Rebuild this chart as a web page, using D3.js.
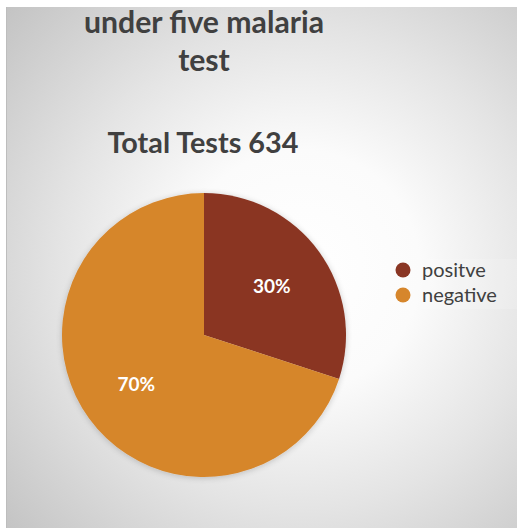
<!DOCTYPE html>
<html><head><meta charset="utf-8">
<script src="https://cdn.jsdelivr.net/npm/d3@7/dist/d3.min.js"></script>
<style>html,body{margin:0;padding:0;background:#fff;}svg{display:block;}</style>
</head><body>
<svg id="c" width="517" height="529"></svg>
<script>
const categories = ["positve", "negative"];
const values = [30, 70];
const labels = ["30%", "70%"];
const colors = ["#8A3624", "#D6862C"];
const titleLines = ["under five malaria", "test"];
const subtitle = "Total Tests 634";

const W = 517, H = 529;
const svg = d3.select("#c");
const defs = svg.append("defs");
const rg = defs.append("radialGradient").attr("id","bg")
  .attr("gradientUnits","userSpaceOnUse").attr("cx",300).attr("cy",270).attr("r",400);
rg.append("stop").attr("offset","0").attr("stop-color","#ffffff");
rg.append("stop").attr("offset","0.3").attr("stop-color","#fbfbfb");
rg.append("stop").attr("offset","0.6").attr("stop-color","#e4e4e4");
rg.append("stop").attr("offset","1").attr("stop-color","#c2c2c2");
const sh = defs.append("filter").attr("id","sh").attr("x","-20%").attr("y","-20%").attr("width","140%").attr("height","140%");
sh.append("feGaussianBlur").attr("in","SourceAlpha").attr("stdDeviation",3);
sh.append("feOffset").attr("dx",0).attr("dy",1).attr("result","b");
sh.append("feComponentTransfer").append("feFuncA").attr("type","linear").attr("slope",0.2);
const m = sh.append("feMerge"); m.append("feMergeNode"); m.append("feMergeNode").attr("in","SourceGraphic");

svg.append("rect").attr("x",6).attr("y",7).attr("width",W-6).attr("height",H-8).attr("fill","url(#bg)");
svg.append("line").attr("x1",6.5).attr("x2",6.5).attr("y1",7).attr("y2",H-1).attr("stroke","#bdbdbd").attr("stroke-width",1);

const font = "Lato, 'Open Sans', sans-serif";
function fitText(sel, target){
  const w = sel.node().getComputedTextLength();
  const fs = parseFloat(sel.attr("font-size"));
  sel.attr("font-size", fs*target/w);
}
const cx = 204, cy = 335, r = 142;
const t1 = svg.append("text").attr("x",cx).attr("y",33).attr("text-anchor","middle")
  .attr("font-family",font).attr("font-weight","bold").attr("font-size",26).attr("fill","#404040").text(titleLines[0]);
fitText(t1, 240);
const fs1 = t1.attr("font-size");
svg.append("text").attr("x",cx).attr("y",71).attr("text-anchor","middle")
  .attr("font-family",font).attr("font-weight","bold").attr("font-size",fs1).attr("fill","#404040").text(titleLines[1]);
const t3 = svg.append("text").attr("x",203).attr("y",153).attr("text-anchor","middle")
  .attr("font-family",font).attr("font-weight","bold").attr("font-size",26).attr("fill","#404040").text(subtitle);
fitText(t3, 191);

const pie = d3.pie().sort(null).value(d=>d);
const arc = d3.arc().innerRadius(0).outerRadius(r);
const arcs = pie(values);
const g = svg.append("g").attr("transform",`translate(${cx},${cy})`).attr("filter","url(#sh)");
g.selectAll("path").data(arcs).join("path").attr("d",arc).attr("fill",(d,i)=>colors[i]);
const lab = d3.arc().innerRadius(r*0.59).outerRadius(r*0.59);
const lg = svg.append("g").attr("transform",`translate(${cx},${cy})`);
lg.selectAll("text").data(arcs).join("text")
  .attr("transform",(d,i)=>{const c=lab.centroid(d);return `translate(${c[0]},${c[1]})`;})
  .attr("text-anchor","middle").attr("dy","0.36em")
  .attr("font-family",font).attr("font-weight","bold").attr("font-size",19).attr("fill","#ffffff")
  .text((d,i)=>labels[i]);

svg.append("rect").attr("x",382).attr("y",259).attr("width",135).attr("height",50).attr("fill","#ffffff").attr("opacity",0.15);
const leg = svg.append("g");
categories.forEach((c,i)=>{
  const y = 270 + i*25;
  leg.append("circle").attr("cx",403).attr("cy",y).attr("r",7.5).attr("fill",colors[i]);
  leg.append("text").attr("x",422).attr("y",y).attr("dy","0.33em").attr("font-family",font)
    .attr("font-size",20).attr("fill","#404040").text(c);
});
</script>
</body></html>
